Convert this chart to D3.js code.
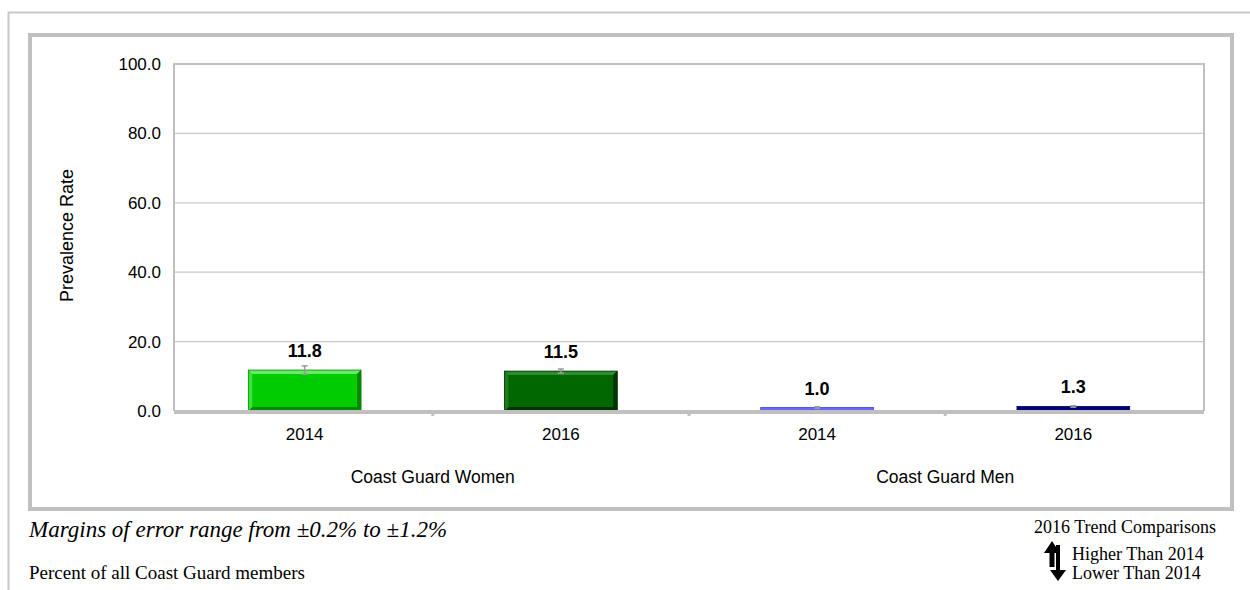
<!DOCTYPE html>
<html><head><meta charset="utf-8">
<script src="https://cdn.jsdelivr.net/npm/d3@7"></script>
<style>body{margin:0;background:#fff}svg{display:block}</style>
</head><body>
<svg id="c" width="1250" height="590"></svg>
<script>
const groups = ["Coast Guard Women", "Coast Guard Men"];
const years = ["2014", "2016", "2014", "2016"];
const barGroup = [0, 0, 1, 1];
const values = [11.8, 11.5, 1.0, 1.3];
const errors = [1.2, 0.6, 0.2, 0.2];
const colors = ["#00CC00", "#006600", "#6666FF", "#000080"];
const lightColors = ["#66EE66", "#2E8B2E", "#9999FF", "#3333AA"];
const darkColors = ["#008800", "#003300", "#4444CC", "#000050"];
const yTicks = [0, 20, 40, 60, 80, 100];

const SANS = "Arial, Liberation Sans, sans-serif";
const SERIF = "Times New Roman, Liberation Serif, serif";
const svg = d3.select("#c");
// outer frame
svg.append("path").attr("d","M8.5,590 L8.5,12.5 L1250,12.5").attr("fill","none").attr("stroke","#c8c8c8").attr("stroke-width",2);
// chart frame
svg.append("rect").attr("x",30).attr("y",35).attr("width",1202).attr("height",474)
  .attr("fill","#fff").attr("stroke","#c0c0c0").attr("stroke-width",4);

const L=174, T=64, R=1204, B=411;
const x = d3.scaleBand().domain(d3.range(values.length)).range([L,R]).paddingInner(0.56).paddingOuter(0.29);
const y = d3.scaleLinear().domain([0,100]).range([B,T]);

// gridlines
svg.append("g").selectAll("line").data(yTicks.filter(t=>t>0 && t<100)).join("line")
  .attr("x1",L).attr("x2",R).attr("y1",d=>y(d)).attr("y2",d=>y(d)).attr("stroke","#c8c8c8").attr("stroke-width",1.3);
// plot border
svg.append("path").attr("d",`M${L},${B} L${L},${T} L${R},${T} L${R},${B}`).attr("fill","none").attr("stroke","#c0c0c0").attr("stroke-width",2);

// y axis
const ya = svg.append("g").attr("transform",`translate(${L},0)`).call(d3.axisLeft(y).tickValues(yTicks).tickFormat(d3.format(".1f")).tickSize(0).tickPadding(13));
ya.select(".domain").remove();
ya.selectAll("text").attr("font-family",SANS).attr("font-size",17).attr("fill","#000");

svg.append("text").attr("transform",`translate(73,${(T+B)/2-2}) rotate(-90)`).attr("text-anchor","middle")
  .attr("font-family",SANS).attr("font-size",18).text("Prevalence Rate");

// bars
const bw = x.bandwidth();
const bev = 4;
const bars = svg.append("g").selectAll("g").data(values).join("g");
bars.append("rect").attr("x",(d,i)=>x(i)).attr("y",d=>y(d)).attr("width",bw).attr("height",d=>B-y(d))
  .attr("fill",(d,i)=>colors[i]);
bars.each(function(d,i){
  if (B-y(d) <= 2*bev) return;
  const g=d3.select(this), x0=x(i), x1=x(i)+bw, y0=y(d), y1=B;
  g.append("polygon").attr("points",`${x0},${y0} ${x1},${y0} ${x1-bev},${y0+bev} ${x0+bev},${y0+bev}`).attr("fill",lightColors[i]);
  g.append("polygon").attr("points",`${x1},${y0} ${x1},${y1} ${x1-bev},${y1-bev} ${x1-bev},${y0+bev}`).attr("fill",darkColors[i]);
  g.append("polygon").attr("points",`${x0},${y1} ${x1},${y1} ${x1-bev},${y1-bev} ${x0+bev},${y1-bev}`).attr("fill",darkColors[i]);
  g.append("polygon").attr("points",`${x0},${y0} ${x0+bev},${y0+bev} ${x0+bev},${y1-bev} ${x0},${y1}`).attr("fill",lightColors[i]).attr("opacity",0.6);
});
bars.append("rect").attr("x",(d,i)=>x(i)).attr("y",d=>y(d)).attr("width",bw).attr("height",d=>B-y(d))
  .attr("fill","none").attr("stroke",(d,i)=>darkColors[i]).attr("stroke-width",0.8);

// error bars
const eb = svg.append("g").attr("stroke","#999").attr("stroke-width",1.5);
values.forEach((v,i)=>{
  const cx = x(i)+bw/2;
  eb.append("line").attr("x1",cx).attr("x2",cx).attr("y1",y(v+errors[i])).attr("y2",y(v-errors[i]));
  eb.append("line").attr("x1",cx-3).attr("x2",cx+3).attr("y1",y(v+errors[i])).attr("y2",y(v+errors[i]));
  eb.append("line").attr("x1",cx-3).attr("x2",cx+3).attr("y1",y(v-errors[i])).attr("y2",y(v-errors[i]));
});

// value labels
svg.append("g").selectAll("text").data(values).join("text")
  .attr("x",(d,i)=>x(i)+bw/2).attr("y",d=>y(d)-13)
  .attr("text-anchor","middle").attr("font-family",SANS).attr("font-size",18).attr("font-weight","bold")
  .text(d=>d3.format(".1f")(d));

// x axis line
svg.append("line").attr("x1",L).attr("x2",R).attr("y1",B+1).attr("y2",B+1).attr("stroke","#c0c0c0").attr("stroke-width",4);
// ticks between bands
const step = x.step();
const tickXs = d3.range(1,values.length).map(i=>x(i)-x.paddingInner()*step/2);
svg.append("g").selectAll("line").data(tickXs).join("line").attr("x1",d=>d).attr("x2",d=>d).attr("y1",B).attr("y2",B+5)
  .attr("stroke","#c0c0c0").attr("stroke-width",3);

// year labels
svg.append("g").selectAll("text").data(years).join("text")
  .attr("x",(d,i)=>x(i)+bw/2).attr("y",440).attr("text-anchor","middle")
  .attr("font-family",SANS).attr("font-size",17).text(d=>d);
// group labels
svg.append("g").selectAll("text").data(groups).join("text")
  .attr("x",(g,gi)=>{const idx=d3.range(values.length).filter(i=>barGroup[i]===gi);return (x(idx[0])+x(idx[idx.length-1])+bw)/2;})
  .attr("y",483).attr("text-anchor","middle")
  .attr("font-family",SANS).attr("font-size",17.5).text(d=>d);

// footer
svg.append("text").attr("x",29).attr("y",537).attr("font-family",SERIF).attr("font-style","italic").attr("font-size",23)
  .text("Margins of error range from ±0.2% to ±1.2%");
svg.append("text").attr("x",29).attr("y",579).attr("font-family",SERIF).attr("font-size",19)
  .text("Percent of all Coast Guard members");
svg.append("text").attr("x",1034).attr("y",533).attr("font-family",SERIF).attr("font-size",18)
  .text("2016 Trend Comparisons");
svg.append("text").attr("x",1072).attr("y",560).attr("font-family",SERIF).attr("font-size",18)
  .text("Higher Than 2014");
svg.append("text").attr("x",1072).attr("y",579).attr("font-family",SERIF).attr("font-size",18)
  .text("Lower Than 2014");
// arrows
svg.append("path").attr("d","M1052,541 L1060,553 L1054.5,553 L1054.5,567 L1049.5,567 L1049.5,553 L1044,553 Z").attr("fill","#000");
svg.append("path").attr("d","M1056,545 L1060,545 L1060,570 L1066,570 L1058,581 L1050,570 L1056,570 Z").attr("fill","#000");
</script>
</body></html>
